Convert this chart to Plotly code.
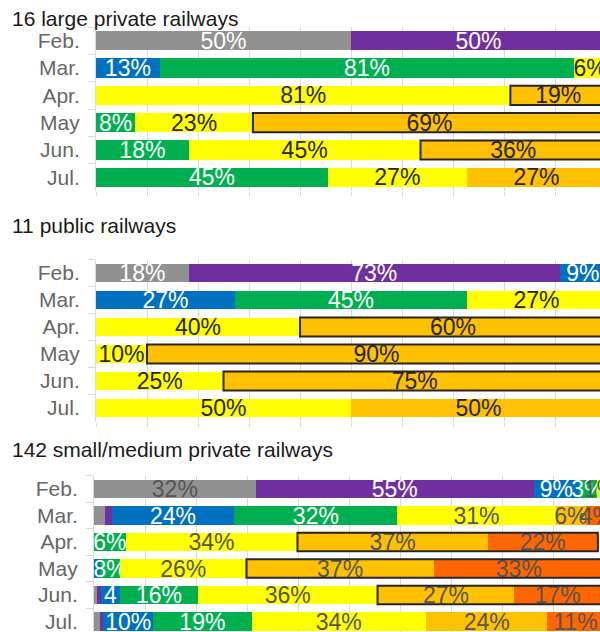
import plotly.graph_objects as go

W, H = 600, 632

months = ["Feb.", "Mar.", "Apr.", "May", "Jun.", "Jul."]
series_names = ["gray", "purple", "blue", "green", "yellow", "orange", "darkorange"]
series_colors = ["#919191", "#7030A0", "#0070C0", "#00B050", "#FFFF00", "#FFC000", "#FF6600"]

# ---------- Panel 1: 16 large private railways (values in %) ----------
p1_title = "16 large private railways"
p1_gray = [50.0, 0, 0, 0, 0, 0]
p1_purple = [50.0, 0, 0, 0, 0, 0]
p1_blue = [0, 12.5, 0, 0, 0, 0]
p1_green = [0, 81.25, 0, 7.69, 18.18, 45.45]
p1_yellow = [0, 6.25, 81.25, 23.08, 45.45, 27.27]
p1_orange = [0, 0, 18.75, 69.23, 36.36, 27.27]
p1_darkorange = [0, 0, 0, 0, 0, 0]
p1_labels = {
    "gray": ["50%", "", "", "", "", ""],
    "purple": ["50%", "", "", "", "", ""],
    "blue": ["", "13%", "", "", "", ""],
    "green": ["", "81%", "", "8%", "18%", "45%"],
    "yellow": ["", "6%", "81%", "23%", "45%", "27%"],
    "orange": ["", "", "19%", "69%", "36%", "27%"],
    "darkorange": ["", "", "", "", "", ""],
}
p1_box_start = [None, None, "orange", "orange", "orange", None]

# ---------- Panel 2: 11 public railways ----------
p2_title = "11 public railways"
p2_gray = [18.18, 0, 0, 0, 0, 0]
p2_purple = [72.73, 0, 0, 0, 0, 0]
p2_blue = [9.09, 27.27, 0, 0, 0, 0]
p2_green = [0, 45.45, 0, 0, 0, 0]
p2_yellow = [0, 27.27, 40.0, 10.0, 25.0, 50.0]
p2_orange = [0, 0, 60.0, 90.0, 75.0, 50.0]
p2_darkorange = [0, 0, 0, 0, 0, 0]
p2_labels = {
    "gray": ["18%", "", "", "", "", ""],
    "purple": ["73%", "", "", "", "", ""],
    "blue": ["9%", "27%", "", "", "", ""],
    "green": ["", "45%", "", "", "", ""],
    "yellow": ["", "27%", "40%", "10%", "25%", "50%"],
    "orange": ["", "", "60%", "90%", "75%", "50%"],
    "darkorange": ["", "", "", "", "", ""],
}
p2_box_start = [None, None, "orange", "orange", "orange", None]

# ---------- Panel 3: 142 small/medium private railways ----------
p3_title = "142 small/medium private railways"
p3_gray = [31.7, 2.1, 0, 0, 0.6, 1.2]
p3_purple = [54.5, 1.4, 0, 0, 0.8, 0.6]
p3_blue = [8.9, 24.0, 0, 1.2, 3.7, 9.8]
p3_green = [3.5, 32.0, 6.2, 3.9, 15.3, 19.3]
p3_yellow = [1.4, 31.0, 33.7, 24.8, 35.2, 34.2]
p3_orange = [0, 6.0, 37.3, 36.7, 26.8, 23.8]
p3_darkorange = [0, 4.0, 21.6, 33.4, 17.0, 11.0]
p3_labels = {
    "gray": ["32%", "", "", "", "", ""],
    "purple": ["55%", "", "", "", "", ""],
    "blue": ["9%", "24%", "", "", "4", "10%"],
    "green": ["3%", "32%", "6%", "8%", "16%", "19%"],
    "yellow": ["1%", "31%", "34%", "26%", "36%", "34%"],
    "orange": ["", "6%", "37%", "37%", "27%", "24%"],
    "darkorange": ["", "4%", "22%", "33%", "17%", "11%"],
}
p3_box_start = [None, None, "orange", "orange", "orange", None]

panels = [
    dict(title=p1_title, data=[p1_gray, p1_purple, p1_blue, p1_green, p1_yellow, p1_orange, p1_darkorange],
         labels=p1_labels, box=p1_box_start, dark="#262626",
         x0px=96, top=27, bottom=191, title_y=18, n_rows=6.0),
    dict(title=p2_title, data=[p2_gray, p2_purple, p2_blue, p2_green, p2_yellow, p2_orange, p2_darkorange],
         labels=p2_labels, box=p2_box_start, dark="#262626",
         x0px=96, top=259.5, bottom=421.5, title_y=225, n_rows=6.0),
    dict(title=p3_title, data=[p3_gray, p3_purple, p3_blue, p3_green, p3_yellow, p3_orange, p3_darkorange],
         labels=p3_labels, box=p3_box_start, dark="#555555",
         x0px=94, top=475.75, bottom=632, title_y=449, n_rows=(632 - 475.75) / 26.5),
]

light_text = {"gray": None, "purple": "white", "blue": "white", "green": "white",
              "yellow": None, "orange": None, "darkorange": None}

PX_PER_PCT = 5.1
FONT = "Arial, Liberation Sans, sans-serif"

fig = go.Figure()
layout_axes = {}
shapes = []
annotations = []

for pi, p in enumerate(panels):
    k = "" if pi == 0 else str(pi + 1)
    xname, yname = "x" + k, "y" + k
    for si, name in enumerate(series_names):
        vals = p["data"][si]
        tc = light_text[name] or p["dark"]
        if pi < 2 and name == "gray":
            tc = "white"
        fig.add_trace(go.Bar(
            x=vals, y=months, orientation="h", xaxis=xname, yaxis=yname,
            marker=dict(color=series_colors[si], line=dict(width=0)),
            text=p["labels"][name], textposition="inside", insidetextanchor="middle",
            constraintext="none", cliponaxis=True, textangle=0,
            textfont=dict(family=FONT, size=23, color=tc),
            width=0.7, showlegend=False, hoverinfo="skip", name=name,
        ))
    # outline boxes
    for ri, start in enumerate(p["box"]):
        if start is None:
            continue
        si0 = series_names.index(start)
        x0 = sum(p["data"][s][ri] for s in range(si0))
        x1 = sum(p["data"][s][ri] for s in range(len(series_names)))
        shapes.append(dict(type="rect", xref=xname, yref=yname,
                           x0=x0, x1=x1, y0=ri - 0.35, y1=ri + 0.35,
                           line=dict(color="#262626", width=2), fillcolor="rgba(0,0,0,0)",
                           layer="above"))
    xmax = (W - p["x0px"]) / PX_PER_PCT
    layout_axes["xaxis" + k] = dict(
        domain=[p["x0px"] / W, 1], range=[0, xmax], anchor=yname, automargin=False,
        showgrid=True, gridcolor="#d9d9d9", gridwidth=1, dtick=10, tick0=0,
        showticklabels=False, zeroline=False, showline=False,
        ticks="outside", ticklen=4, tickcolor="#d9d9d9", fixedrange=True,
    )
    layout_axes["yaxis" + k] = dict(
        domain=[1 - p["bottom"] / H, 1 - p["top"] / H], anchor=xname, automargin=False,
        type="category", categoryorder="array", categoryarray=months,
        range=[-0.5 + p["n_rows"], -0.5],
        tickson="boundaries", ticks="outside", ticklen=7, tickcolor="#d9d9d9",
        showline=True, linecolor="#d9d9d9", linewidth=1, showgrid=False,
        ticklabelstandoff=11,
        tickfont=dict(family=FONT, size=21, color="#666666"), fixedrange=True,
    )
    annotations.append(dict(text=p["title"], xref="paper", yref="paper",
                            x=10 / W, y=1 - p["title_y"] / H, xanchor="left", yanchor="middle",
                            showarrow=False, font=dict(family=FONT, size=21, color="#1a1a1a")))

fig.update_layout(
    width=W, height=H, margin=dict(l=0, r=0, t=0, b=0, pad=0, autoexpand=False),
    barmode="stack", bargap=0.3,
    plot_bgcolor="white", paper_bgcolor="white",
    shapes=shapes, annotations=annotations,
    **layout_axes,
)

fig.write_html("out.html", config={"displayModeBar": False, "staticPlot": True},
               post_script="document.body.style.margin='0px';document.body.style.overflow='hidden';")
